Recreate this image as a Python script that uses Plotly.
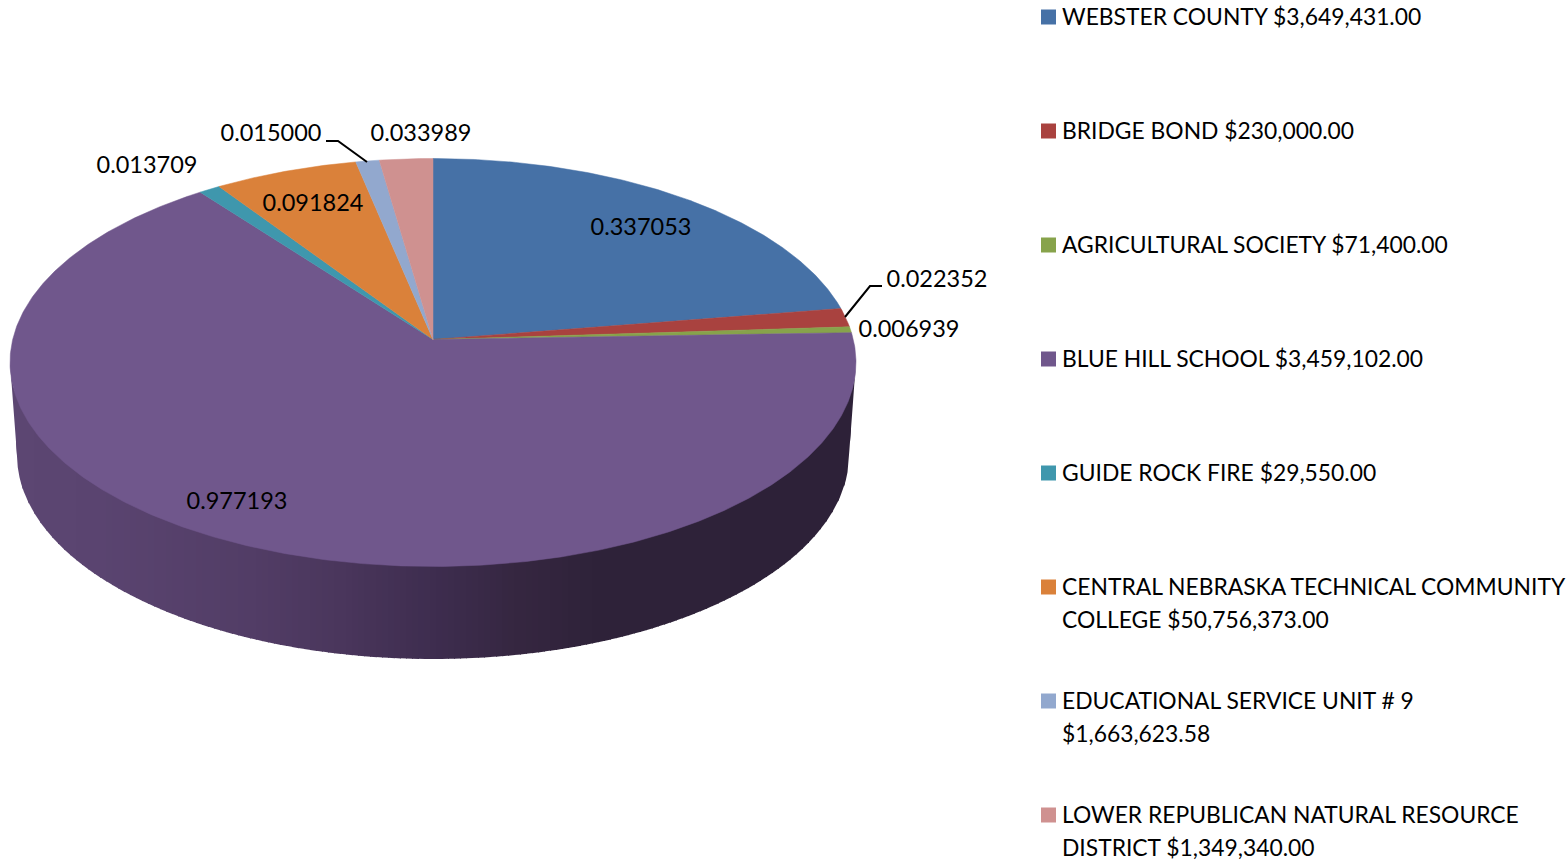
import numpy as np
import plotly.graph_objects as go

categories = ["WEBSTER COUNTY", "BRIDGE BOND", "AGRICULTURAL SOCIETY", "BLUE HILL SCHOOL",
              "GUIDE ROCK FIRE", "CENTRAL NEBRASKA TECHNICAL COMMUNITY|COLLEGE",
              "EDUCATIONAL SERVICE UNIT # 9|", "LOWER REPUBLICAN NATURAL RESOURCE|DISTRICT"]
amounts = ["$3,649,431.00", "$230,000.00", "$71,400.00", "$3,459,102.00", "$29,550.00",
           "$50,756,373.00", "$1,663,623.58", "$1,349,340.00"]
values = [0.337053, 0.022352, 0.006939, 0.977193, 0.013709, 0.091824, 0.015000, 0.033989]
colors = ["#4671A6", "#A9423F", "#87A34B", "#70578C", "#3F97AD", "#DA813A", "#92A8CE", "#CF9190"]

# label centres, px
label_x = [641, 937, 909, 237, 147, 313, 271, 421]
label_y = [229, 281, 331, 503, 167, 205, 135, 135]

# projection of the pie disc
CX, CY, BX, AY, PERSP = 433.0, 339.5, 420.3, 201.4, 0.1127
# bottom rim (px)
BOT_CY, BOT_RY, BOT_RX = 455.0, 204.0, 416.0
FONT = "Lato"
FS = 23.5
LEG_FS = 22.85


def project(theta):
    u, v = np.sin(theta), np.cos(theta)
    den = 1 + PERSP * v
    return CX + BX * u / den, CY - AY * v / den


fig = go.Figure()

# side wall: vertical strips shaded left to right
TOP_RX = BX / np.sqrt(1 - PERSP ** 2)
TOP_CY = CY + AY * PERSP / (1 - PERSP ** 2)
TOP_RY = AY / (1 - PERSP ** 2)
shade_x = [10, 100, 250, 340, 433, 520, 600, 856]
shade_r = [0x5C, 0x5A, 0x52, 0x4A, 0x3E, 0x35, 0x2E, 0x2D]
shade_g = [0x46, 0x44, 0x3D, 0x36, 0x2D, 0x26, 0x22, 0x21]
shade_b = [0x72, 0x70, 0x66, 0x5C, 0x4F, 0x40, 0x39, 0x38]


def lower(x, cy, ry, rx):
    t = np.clip((x - CX) / rx, -1, 1)
    return cy + ry * np.sqrt(1 - t ** 2)


edges = np.arange(10, 857, 6.0)
for x0 in edges:
    x1 = min(x0 + 7, 856)
    xs = np.linspace(x0, x1, 5)
    top = lower(xs, TOP_CY, TOP_RY, TOP_RX) - 2
    bot = lower(xs, BOT_CY, BOT_RY, BOT_RX)
    xm = (x0 + x1) / 2
    r = np.interp(xm, shade_x, shade_r)
    g = np.interp(xm, shade_x, shade_g)
    b = np.interp(xm, shade_x, shade_b)
    # outside the bottom rim, the lower bound follows the straight silhouette
    frac = np.clip((np.abs(xs - CX) - BOT_RX) / (TOP_RX - BOT_RX), 0, 1)
    bot = np.where(np.abs(xs - CX) > BOT_RX, TOP_CY + (1 - frac) * (BOT_CY - TOP_CY), bot)
    col = f"rgb({r:.0f},{g:.0f},{b:.0f})"
    fig.add_trace(go.Scatter(x=np.r_[xs, xs[::-1]], y=np.r_[top, bot[::-1]], mode="lines",
                             fill="toself", fillcolor=col, line=dict(width=0), hoverinfo="skip",
                             showlegend=False))

# top face slices
total = sum(values)
start = 0.0
for name, val, col in zip(categories, values, colors):
    end = start + val / total * 2 * np.pi
    th = np.linspace(start, end, max(int((end - start) * 120), 4))
    px, py = project(th)
    fig.add_trace(go.Scatter(x=np.r_[CX, px, CX], y=np.r_[CY, py, CY], mode="lines", fill="toself",
                             fillcolor=col, line=dict(width=0.5, color=col), name=name.replace("|", " "),
                             showlegend=False, hoverinfo="name"))
    start = end

# value labels
fig.add_trace(go.Scatter(x=label_x, y=label_y, mode="text", text=[f"{v:.6f}" for v in values],
                         textposition="middle center", textfont=dict(family=FONT, size=FS, color="#000000"),
                         hoverinfo="skip", showlegend=False))

# legend
LEG_TOP, LEG_STEP, LINE_STEP, SW_X, TXT_X = 17, 114, 33, 1048.5, 1061
sw_y = [LEG_TOP + i * LEG_STEP for i in range(len(categories))]
fig.add_trace(go.Scatter(x=[SW_X] * len(categories), y=sw_y, mode="markers",
                         marker=dict(symbol="square", size=15, color=colors, line=dict(width=0)),
                         hoverinfo="skip", showlegend=False))
annotations = []
for name, amt, y in zip(categories, amounts, sw_y):
    if "|" in name:
        first, second = name.split("|")
        lines = [first, (second + " " + amt).strip()]
    else:
        lines = [name + " " + amt]
    for k, line in enumerate(lines):
        annotations.append(dict(x=TXT_X, y=y - 1 + k * LINE_STEP, xref="x", yref="y", text=line,
                                showarrow=False, xanchor="left", yanchor="middle", align="left",
                                borderpad=0, font=dict(family=FONT, size=LEG_FS, color="#000000")))

leaders = ["M 882 286 L 870 286 L 845 317", "M 326 141 L 338 141 L 367 162"]
shapes = [dict(type="path", path=p, xref="x", yref="y", line=dict(color="#000000", width=2)) for p in leaders]

fig.update_layout(width=1566, height=861, margin=dict(l=0, r=0, t=0, b=0), paper_bgcolor="white",
                  plot_bgcolor="white", showlegend=False, annotations=annotations, shapes=shapes,
                  xaxis=dict(range=[0, 1566], visible=False, fixedrange=True),
                  yaxis=dict(range=[861, 0], visible=False, fixedrange=True))
fig.write_html("out.html", config=dict(displayModeBar=False),
               post_script="document.body.style.margin='0';document.body.style.overflow='hidden';")
